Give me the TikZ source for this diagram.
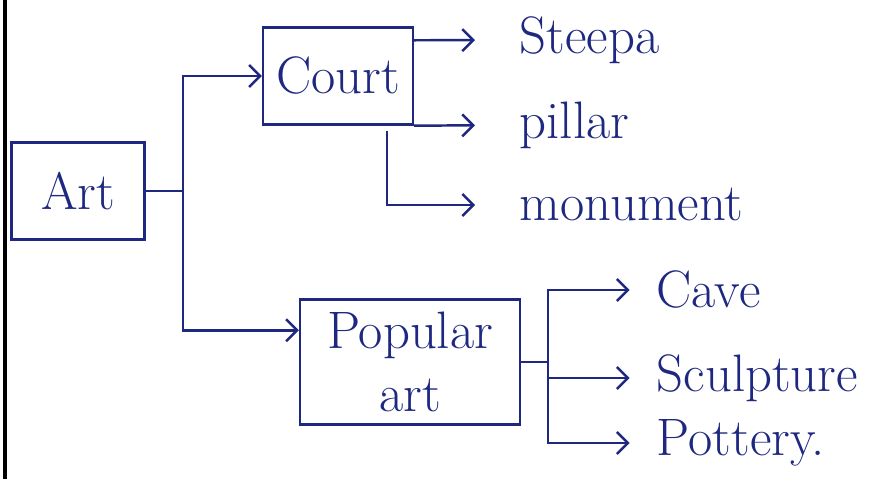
\documentclass[tikz,border=0pt]{standalone}
\usepackage{tikz}
\usetikzlibrary{arrows.meta,calc}
\definecolor{ink}{RGB}{30,40,128}

\tikzset{
  box/.style={draw,inner sep=2pt},
  word/.style={anchor=west,inner sep=2pt,font=\fontsize{30}{34}\selectfont},
  lead/.style={->,shorten >=#1}
}

\begin{document}
\begin{tikzpicture}[x=0.02cm,y=-0.02cm,line width=1.4pt,ink,
  >={Straight Barb[length=2.2mm,width=4.4mm]}]
\useasboundingbox (0,0) rectangle (887,479);
\draw[black,line width=1.8pt] (5,0) -- (5,479);

% boxes
\node[box,minimum width=2.66cm,minimum height=1.94cm,font=\fontsize{30}{34}\selectfont] (art) at (78,191) {Art};
\node[box,minimum width=3cm,minimum height=1.94cm,font=\fontsize{30}{34}\selectfont] (court) at (338,76) {Court};
\node[box,minimum width=4.4cm,minimum height=2.5cm,align=center,font=\fontsize{30}{36}\selectfont] (pop) at (410,362) {Popular\\art};

% leaves
\node[word] (steepa) at (515,40) {Steepa};
\node[word] (pillar) at (515,125) {pillar};
\node[word] (monument) at (515,205) {monument};
\node[word] (cave) at (652,290) {Cave};
\node[word] (sculpture) at (652,378) {Sculpture};
\node[word] (pottery) at (652,443) {Pottery.};

% art branches
\coordinate (ja) at (183,191);
\draw (art.east) -- (ja);
\draw[->] (ja) |- (court.west);
\draw[->] (ja) |- ($(pop.north west)+(0,32)$);

% court branches
\draw[lead=0.8cm] ($(court.north east)+(0,14)$) -- (steepa.west);
\draw[lead=0.8cm] (court.south east) -- (pillar.west);
\draw[lead=0.8cm] ($(court.south east)+(-27,5)$) |- (monument.west);

% popular art branches
\coordinate (jb) at (548,362);
\draw (pop.east) -- (jb);
\draw[lead=0.45cm] (jb) |- (cave.west);
\draw[lead=0.45cm] (jb) |- (sculpture.west);
\draw[lead=0.45cm] (jb) |- (pottery.west);
\end{tikzpicture}
\end{document}
